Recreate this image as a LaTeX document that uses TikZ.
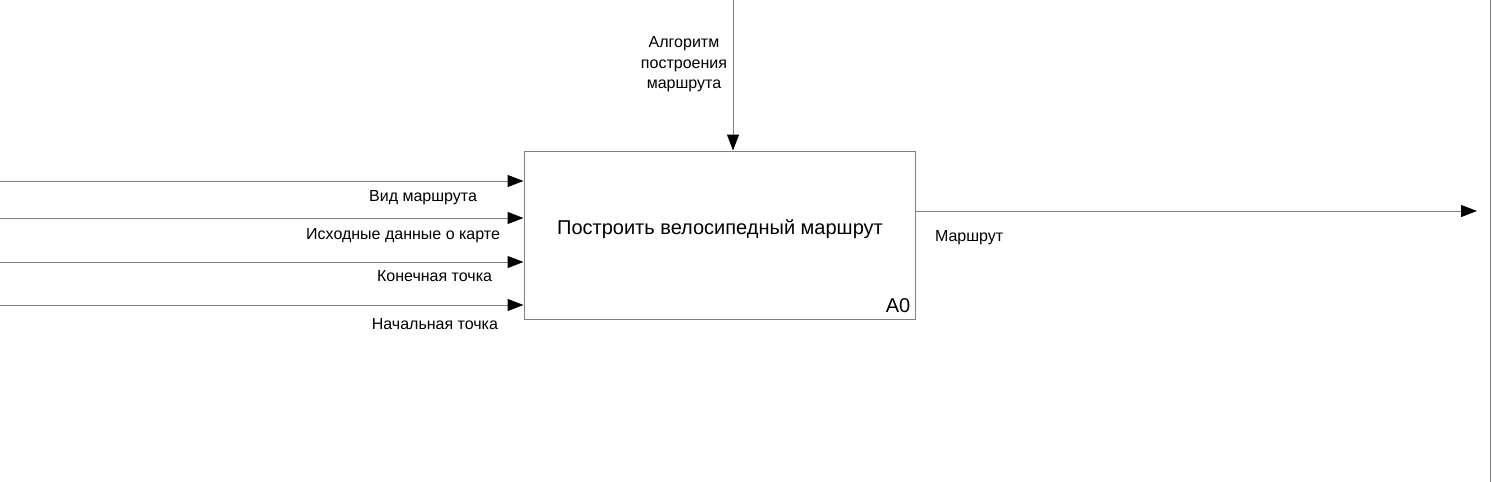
\documentclass[tikz,border=0pt]{standalone}
\usepackage{fontspec}
\setmainfont{Liberation Sans}
\usetikzlibrary{arrows.meta,positioning}
\definecolor{idefline}{RGB}{128,128,128}

\begin{document}
\begin{tikzpicture}[
    x=1pt, y=-1pt,
    funcbox/.style={rectangle, draw=idefline, line width=1pt, minimum width=391pt, minimum height=168pt, inner sep=0pt},
    lbl/.style={font=\fontsize{16}{20.5}\selectfont, inner sep=0pt, align=center},
    flow/.style={draw=idefline, line width=1pt, -{Triangle[length=16pt, width=12pt, color=black]}}
]
\useasboundingbox (0,0) rectangle (1492,482);

% function block
\node[funcbox] (proc) at (719.5, 235) {};
\node[font=\fontsize{20}{24}\selectfont, inner sep=0pt] (title) at (720, 229) {Построить велосипедный маршрут};
\node[font=\fontsize{20}{24}\selectfont, anchor=south east, inner sep=0pt] (num) at ([xshift=-5pt, yshift=7pt]proc.south east) {A0};

% inputs
\coordinate (in1) at (0, 181);
\coordinate (in2) at (0, 218);
\coordinate (in3) at (0, 262);
\coordinate (in4) at (0, 305);
\draw[flow] (in1) -- (in1 -| proc.west) node[lbl, anchor=east, xshift=-46pt, yshift=-17pt] {Вид маршрута};
\draw[flow] (in2) -- (in2 -| proc.west) node[lbl, anchor=east, xshift=-23pt, yshift=-18pt] {Исходные данные о карте};
\draw[flow] (in3) -- (in3 -| proc.west) node[lbl, anchor=east, xshift=-31pt, yshift=-14pt] {Конечная точка};
\draw[flow] (in4) -- (in4 -| proc.west) node[lbl, anchor=east, xshift=-25pt, yshift=-19pt] {Начальная точка};

% control
\coordinate (ctrl) at (733, 0);
\draw[flow] (ctrl) -- (ctrl |- proc.north);
\node[lbl] (algo) at (684, 64.5) {Алгоритм\\построения\\маршрута};

% output
\coordinate (out) at (1477, 211);
\draw[flow] (out -| proc.east) -- (out) node[lbl, pos=0, anchor=west, xshift=19pt, yshift=-27pt] {Маршрут};

% frame edge
\draw[idefline, line width=1pt] (1490, 0) -- (1490, 482);
\end{tikzpicture}
\end{document}
